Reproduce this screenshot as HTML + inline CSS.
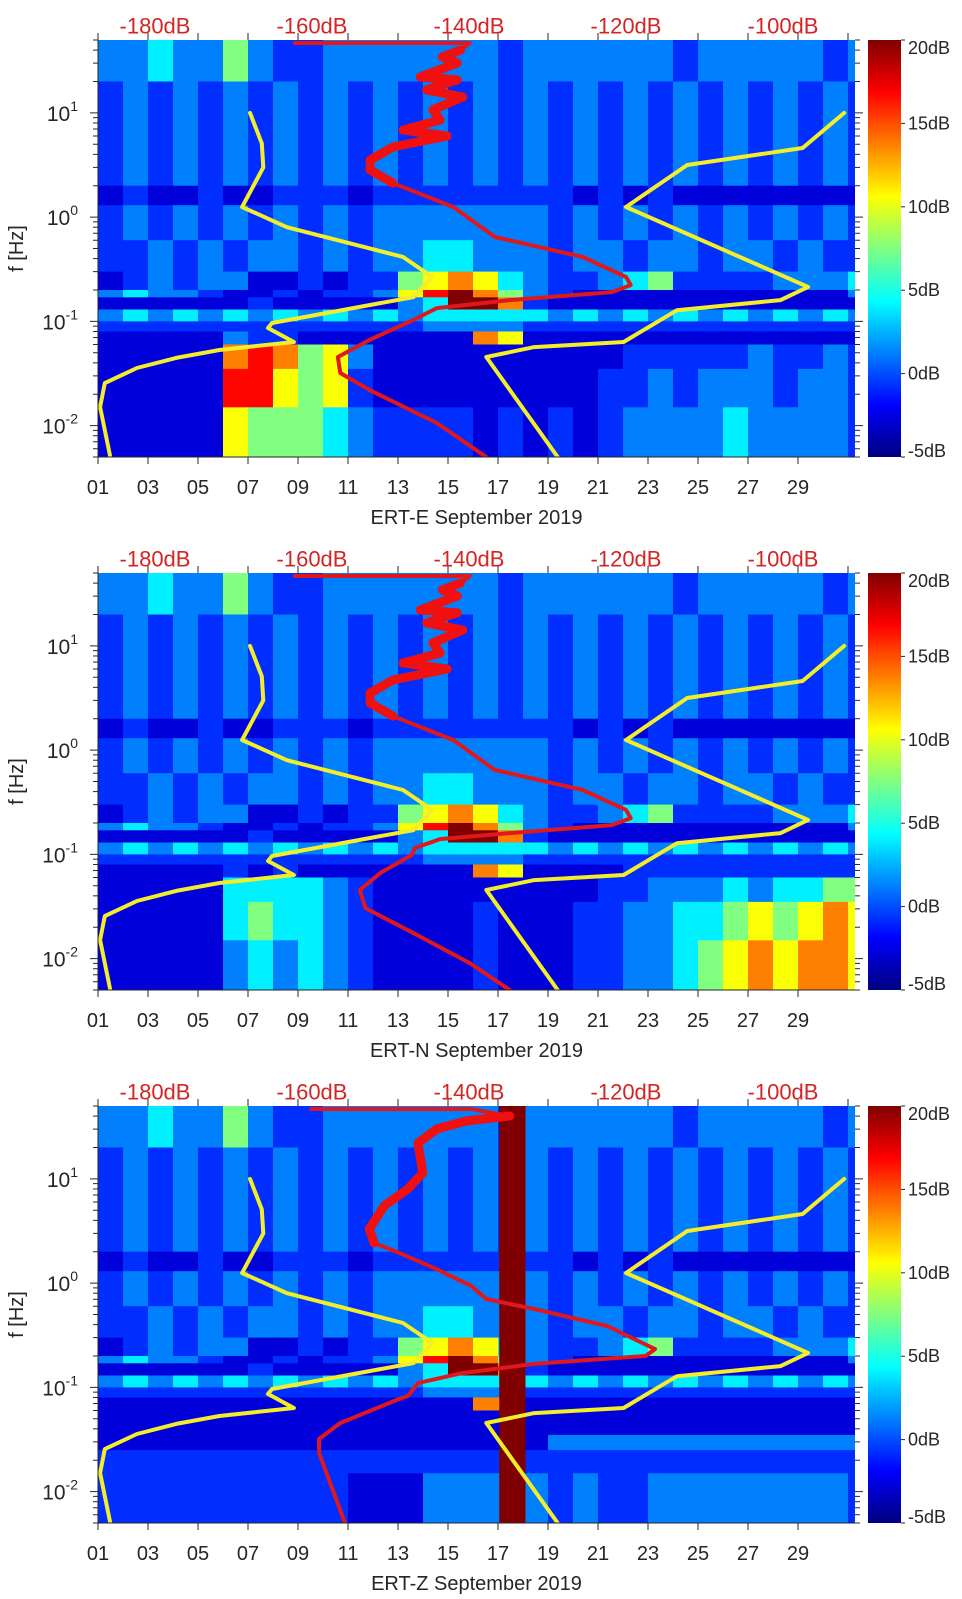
<!DOCTYPE html>
<html><head><meta charset="utf-8">
<style>
html,body{margin:0;padding:0;background:#fff;}
svg{display:block;font-family:"Liberation Sans","DejaVu Sans",sans-serif;}
</style></head>
<body>
<svg id="fig" xmlns="http://www.w3.org/2000/svg" width="962" height="1599" viewBox="0 0 962 1599"></svg>
<script>
// ---- data ----
const bandEdges = [0.005,0.015,0.025,0.035,0.06,0.08,0.1,0.13,0.17,0.2,0.3,0.6,1.3,2,20,50];
// rows listed top (20-50Hz) to bottom (0.005-0.015Hz); one char per day, level 0..9
const levelT = [0,0.09,0.17,0.25,0.36,0.5,0.62,0.75,0.87,1];
const upperRows = [
 "3343353223333333233333323333323",
 "2323232323232323232323232323232",
 "1211211222122222222121211111111",
 "2323232323233333332323232323232",
 "2232323323233443332332332332322",
 "1232331121225676432234522223334",
 "3433211212236897532111111111113",
 "1111112111113499721111111111111",
 "3434343434343444443434343434343",
 "2222222222222333322222222222222"
];
const eLowerRows = [
 "1111132211111117611111111111111",
 "1111178756311111111112222232232",
 "1111188656211111111122323332332",
 "1111188656211111111122323332332",
 "1111165554322221212123333433332"
];
const nLowerRows = [
 "1111121211111117611112222222222",
 "1111144443211111111122333434455",
 "1111145443211112111223344565676",
 "1111145443211112111223344565676",
 "1111134343211112111223345676776"
];
const zLowerRows = [
 "1111111111111117711111111111111",
 "1111111111111111111111111111111",
 "1111111111111111113333333333333",
 "2222222222222222222222222222222",
 "2222222222111333332322333333332"
];
const zGapDays = [17.05, 18.1];

const nlnmFreq = [10,5.1,3.0,1.25,0.80,0.414,0.267,0.171,0.0964,0.0863,0.0634,0.0531,0.0446,0.0357,0.0256,0.0151,0.005];
const nlnmDb   = [-167.9,-166.4,-166.2,-168.9,-163.2,-148.4,-144.7,-147.1,-165.1,-165.6,-162.3,-171.8,-177.3,-182.3,-186.4,-187.0,-185.7];
const nhnmFreq = [10,4.6,3.16,1.25,0.214,0.160,0.128,0.0634,0.0567,0.0455,0.005];
const nhnmDb   = [-92.2,-97.5,-112.2,-120.0,-96.8,-100.3,-113.5,-120.3,-131.7,-137.8,-128.7];

const redEFreq = [46.8,46.8,40.1,34.4,30.1,22.1,20.7,16.6,14.2,10.7,8.55,6.85,6.0,4.71,3.53,2.83,2.12,1.25,0.644,0.414,0.267,0.223,0.191,0.160,0.134,0.103,0.0662,0.0455,0.0320,0.0220,0.0106,0.005];
const redEDb   = [-162.2,-139.9,-141.1,-143.4,-141.5,-146.2,-141.5,-145.4,-140.8,-144.6,-143.7,-148.4,-142.8,-149.7,-152.6,-152.6,-149.7,-142.0,-136.7,-125.5,-120.0,-119.4,-121.8,-134.8,-144.1,-147.1,-152.7,-156.7,-156.4,-152.7,-144.1,-137.8];
const redNFreq = [46.8,46.8,40.1,34.4,30.1,22.1,20.7,16.6,14.2,10.7,8.55,6.85,6.0,4.71,3.53,2.83,2.12,1.25,0.644,0.414,0.267,0.223,0.191,0.160,0.140,0.115,0.0986,0.0662,0.0455,0.0305,0.0176,0.00906,0.005];
const redNDb   = [-162.2,-139.9,-141.1,-143.4,-141.5,-146.2,-141.5,-145.4,-140.8,-144.6,-143.7,-148.4,-142.8,-149.7,-152.6,-152.6,-149.7,-142.0,-136.7,-125.5,-120.0,-119.4,-121.8,-134.8,-143.7,-146.9,-147.3,-151.3,-153.9,-153.2,-147.1,-139.9,-134.8];
const redZFreq = [46.8,46.8,40.1,35.9,30.1,22.1,11.4,8.0,5.5,3.3,2.43,1.95,1.36,0.937,0.704,0.565,0.388,0.233,0.2,0.168,0.137,0.110,0.0826,0.0773,0.0455,0.0320,0.0234,0.005];
const redZDb   = [-160.1,-139.7,-134.8,-140.4,-144.1,-146.5,-145.9,-147.8,-150.8,-152.7,-152.1,-148.9,-144.1,-139.7,-137.8,-131.7,-122.4,-116.3,-117.5,-131.7,-140.9,-146.5,-147.8,-148.9,-156.4,-159.1,-159.1,-155.8];

const dayTicks = ["01","03","05","07","09","11","13","15","17","19","21","23","25","27","29"];
const dbTicks = [-180,-160,-140,-120,-100];
const cbTicks = [20,15,10,5,0,-5];
const yDecades = [1,0,-1,-2];
const panelTitles = ["ERT-E September 2019","ERT-N September 2019","ERT-Z September 2019"];

// ---- layout ----
const L=98, R=855, H=417, tops=[40,573,1106];
const DAYMAX=31.28, FMIN=0.005, FMAX=50, DBMIN=-5, DBMAX=20;
const NS="http://www.w3.org/2000/svg";
const svg=document.getElementById('fig');
function xDay(d){return L+(d-1)*(R-L)/(DAYMAX-1);}
function yF(f,top){return top+(Math.log10(FMAX)-Math.log10(f))*H/(Math.log10(FMAX)-Math.log10(FMIN));}
function xDb(db){return 155+(db+180)*7.85;}
function jet(t){
  t=Math.max(0,Math.min(1,t));
  const r=Math.max(0,Math.min(1,Math.min(4*t-1.5,-4*t+4.5)));
  const g=Math.max(0,Math.min(1,Math.min(4*t-0.5,-4*t+3.5)));
  const b=Math.max(0,Math.min(1,Math.min(4*t+0.5,-4*t+2.5)));
  return "rgb("+Math.round(r*255)+","+Math.round(g*255)+","+Math.round(b*255)+")";
}
function mk(tag,attrs,parent){const e=document.createElementNS(NS,tag);for(const k in attrs)e.setAttribute(k,attrs[k]);(parent||svg).appendChild(e);return e;}

function drawCurve(g,freqs,dbs,top,color,w,name){
  const pts=freqs.map((f,i)=>xDb(dbs[i]).toFixed(1)+","+yF(f,top).toFixed(1)).join(" ");
  const p=mk('polyline',{points:pts,fill:'none',stroke:color,'stroke-width':w,'stroke-linejoin':'round','stroke-linecap':'round'},g);
  
  
  return p;
}

const defs=mk('defs',{});
const grad=mk('linearGradient',{id:'jetgrad',x1:0,y1:1,x2:0,y2:0},defs);
for(let i=0;i<=16;i++){mk('stop',{offset:(i/16),'stop-color':jet(i/16)},grad);}

for(let p=0;p<3;p++){
  const top=tops[p];
  const cp=mk('clipPath',{id:'clip'+p},defs);
  mk('rect',{x:L,y:top,width:R-L,height:H},cp);
  const g=mk('g',{});
  
  
  const plot=mk('g',{'clip-path':'url(#clip'+p+')'},g);
  
  
  const lower=[eLowerRows,nLowerRows,zLowerRows][p];
  const rows=upperRows.concat(lower);
  const nb=bandEdges.length-1;
  for(let r=0;r<rows.length;r++){
    const bi=nb-1-r;
    const y1=yF(bandEdges[bi+1],top), y2=yF(bandEdges[bi],top);
    const row=rows[r];
    for(let c=0;c<row.length;c++){
      const v=parseInt(row[c]);
      const x1=xDay(1+c), x2=xDay(2+c);
      const cell=mk('rect',{x:x1.toFixed(1),y:y1.toFixed(1),width:(x2-x1+0.6).toFixed(1),height:(y2-y1+0.6).toFixed(1),fill:jet(levelT[v])},plot);
      
      
    }
  }
  if(p===2){
    const gap=mk('rect',{x:xDay(zGapDays[0]),y:top,width:xDay(zGapDays[1])-xDay(zGapDays[0]),height:H,fill:'#800000'},plot);
    
    
  }
  drawCurve(plot,nlnmFreq,nlnmDb,top,'#f4ee2a',4,'nlnm-curve');
  drawCurve(plot,nhnmFreq,nhnmDb,top,'#f4ee2a',4,'nhnm-curve');
  const rf=[redEFreq,redNFreq,redZFreq][p], rd=[redEDb,redNDb,redZDb][p];
  drawCurve(plot,rf,rd,top,'#e0181c',4,'station-psd-curve');
  const hiF=[],hiD=[];
  rf.forEach((f,i)=>{if(f>=2.1&&f<45){hiF.push(f);hiD.push(rd[i]);}});
  drawCurve(plot,hiF,hiD,top,'#f01010',9,'station-psd-curve-hf');

  const ax=mk('path',{d:`M${L},${top}V${top+H}H${R}`,stroke:'#262626','stroke-width':1,fill:'none'},g);
  
  
  for(let i=0;i<dayTicks.length;i++){
    const d=1+2*i, x=xDay(d);
    mk('line',{x1:x,y1:top+H,x2:x,y2:top+H+7,stroke:'#262626','stroke-width':1},g);
    const t=mk('text',{x:x,y:top+H+31,'font-size':20,fill:'#262626','text-anchor':'middle','dominant-baseline':'central'},g);
    t.textContent=dayTicks[i];
    
    
  }
  for(let x=L;x<=R;x+=50){mk('line',{x1:x,y1:top,x2:x,y2:top-7,stroke:'#262626','stroke-width':1},g);}
  for(const db of dbTicks){
    const t=mk('text',{x:xDb(db),y:top-14,'font-size':22,fill:'#d42424','text-anchor':'middle','dominant-baseline':'central'},g);
    t.textContent=db+"dB";
    
    
  }
  const xt=mk('text',{x:(L+R)/2,y:top+H+61,'font-size':20,fill:'#262626','text-anchor':'middle','dominant-baseline':'central'},g);
  xt.textContent=panelTitles[p];
  
  
  for(let e=-3;e<=1;e++){
    for(let m=1;m<=9;m++){
      const f=m*Math.pow(10,e);
      if(f<FMIN||f>FMAX)continue;
      const y=yF(f,top), len=m===1?8:5;
      mk('line',{x1:L,y1:y,x2:L-len,y2:y,stroke:'#262626','stroke-width':1},g);
      mk('line',{x1:R,y1:y,x2:R+len,y2:y,stroke:'#262626','stroke-width':1},g);
    }
  }
  for(const d of yDecades){
    const y=yF(Math.pow(10,d),top);
    const t=mk('text',{x:78,y:y+8,'font-size':21,fill:'#262626','text-anchor':'end'},g);
    
    
    const a=mk('tspan',{},t); a.textContent="10";
    const b=mk('tspan',{dy:-10,'font-size':14},t); b.textContent=String(d);
  }
  const yl=mk('text',{x:17,y:top+H/2,'font-size':20,fill:'#262626','text-anchor':'middle','dominant-baseline':'central',transform:`rotate(-90 17 ${top+H/2})`},g);
  yl.textContent="f [Hz]";
  
  
  const cb=mk('rect',{x:868,y:top,width:33,height:H,fill:'url(#jetgrad)'},g);
  
  
  for(const v of cbTicks){
    const y=top+(DBMAX-v)/(DBMAX-DBMIN)*H;
    mk('line',{x1:901,y1:y,x2:905,y2:y,stroke:'#262626','stroke-width':1},g);
    const t=mk('text',{x:908,y:Math.min(Math.max(y,top+8),top+H-6),'font-size':18,fill:'#262626','dominant-baseline':'central'},g);
    t.textContent=v+"dB";
    
    
  }
}
</script>
</body></html>
